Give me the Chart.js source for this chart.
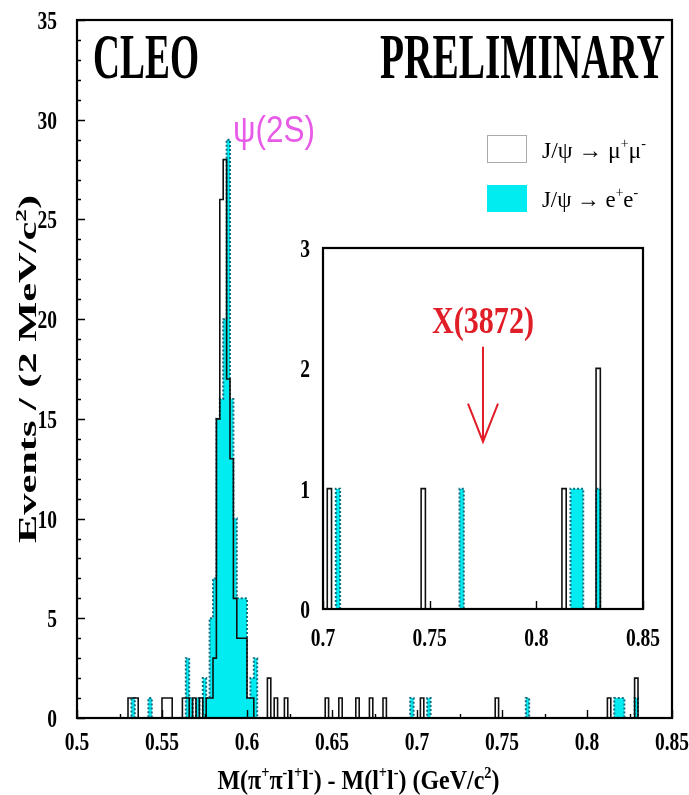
<!DOCTYPE html>
<html>
<head>
<meta charset="utf-8">
<script src="https://cdn.jsdelivr.net/npm/chart.js@4.4.1/dist/chart.umd.min.js"></script>
<style>
  html, body { margin: 0; padding: 0; background: #fff; }
  #wrap { position: relative; width: 689px; height: 795px; }
  #main { position: absolute; left: 0; top: 0; }
  #inset { position: absolute; left: 282px; top: 226px; }
</style>
</head>
<body>
<div id="wrap">
  <canvas id="main" width="689" height="795"></canvas>
  <canvas id="inset" width="380" height="440"></canvas>
</div>
<script>
// histogram: 2 MeV bins, low edge of each filled bin and its count
const binWidth = 0.002;
const muEdges  = [0.530, 0.532, 0.534, 0.550, 0.552, 0.554, 0.562, 0.564, 0.568, 0.572, 0.576,
                  0.578, 0.580, 0.582, 0.584, 0.586, 0.588, 0.590, 0.592, 0.594, 0.596, 0.598,
                  0.600, 0.602, 0.612, 0.616, 0.622, 0.646, 0.654, 0.664, 0.672, 0.680,
                  0.702, 0.746, 0.812, 0.828];
const muCounts = [1, 1, 1, 1, 1, 1, 1, 1, 1, 1, 1,
                  1, 3, 15, 26, 28, 17, 13, 6, 4, 4, 4,
                  1, 1, 2, 1, 1, 1, 1, 1, 1, 1,
                  1, 1, 1, 2];
const eeEdges  = [0.532, 0.542, 0.564, 0.566, 0.570, 0.574, 0.576, 0.578, 0.580, 0.582, 0.584,
                  0.586, 0.588, 0.590, 0.592, 0.594, 0.596, 0.598, 0.600, 0.602, 0.604,
                  0.696, 0.706, 0.764, 0.816, 0.818, 0.820, 0.828];
const eeCounts = [1, 1, 3, 1, 1, 2, 1, 5, 7, 15, 16,
                  20, 29, 16, 10, 6, 6, 6, 1, 2, 3,
                  1, 1, 1, 1, 1, 1, 1];

const xMin = 0.5, xMax = 0.85;
const yTicksMain = [0, 5, 10, 15, 20, 25, 30, 35];
const xTicksMain = [0.5, 0.55, 0.6, 0.65, 0.7, 0.75, 0.8, 0.85];
const insetXMin = 0.7, insetYMax = 3;
const yTicksInset = [0, 1, 2, 3];
const xTicksInset = [0.7, 0.75, 0.8, 0.85];
const x3872 = 0.775;

const serif = "'Liberation Serif', 'Times New Roman', serif";
const cyan = 'rgb(0,236,240)';
const teal = 'rgb(20,110,130)';
const red = 'rgb(225,30,40)';

function hist(edges, counts) {
  const n = Math.round((xMax - xMin) / binWidth);
  const bins = new Array(n).fill(0);
  edges.forEach((e, i) => { bins[Math.round((e - xMin) / binWidth)] = counts[i]; });
  const pts = bins.map((c, i) => ({ x: xMin + i * binWidth, y: c }));
  pts.push({ x: xMax, y: 0 });
  return pts;
}
const muData = hist(muEdges, muCounts);
const eeData = hist(eeEdges, eeCounts);

function datasets() {
  return [
    { label: 'mumu', data: muData, stepped: 'before', borderColor: '#111', borderWidth: 1.6,
      pointRadius: 0, fill: false, order: 1 },
    { label: 'ee', data: eeData, stepped: 'before', borderColor: teal, borderWidth: 2,
      borderDash: [2, 2], backgroundColor: cyan, pointRadius: 0, fill: 'origin', order: 2 }
  ];
}

// text helper: segments (arrays = superscript), fitted to a width, optional rotation
function drawRich(ctx, parts, x, y, o) {
  const size = o.size, font = s => (o.weight || '') + ' ' + s + 'px ' + (o.family || serif);
  ctx.save();
  let total = 0;
  const segs = parts.map(p => {
    const sup = Array.isArray(p);
    const t = sup ? p[0] : p;
    const s = sup ? size * 0.6 : size;
    ctx.font = font(s);
    const w = ctx.measureText(t).width;
    total += w;
    return { t, s, sup, w };
  });
  const sx = o.width ? o.width / total : (o.sx || 1);
  ctx.translate(x, y);
  if (o.rot) ctx.rotate(o.rot);
  ctx.scale(sx, 1);
  let cx = o.align === 'center' ? -total / 2 : o.align === 'right' ? -total : 0;
  ctx.fillStyle = o.color || '#000';
  ctx.textBaseline = 'alphabetic';
  segs.forEach(g => {
    ctx.font = font(g.s);
    ctx.fillText(g.t, cx, g.sup ? -size * 0.42 : 0);
    cx += g.w;
  });
  ctx.restore();
}

function frameAndTicks(chart, opts) {
  const { ctx, chartArea: a, scales } = chart;
  ctx.save();
  ctx.strokeStyle = '#000';
  ctx.lineWidth = 1.4;
  ctx.beginPath();
  if (opts.yMinor) {
    for (let v = scales.y.min; v <= scales.y.max + 1e-9; v += opts.yMinor) {
      const py = Math.round(scales.y.getPixelForValue(v)) + 0.5;
      const major = Math.abs(v / opts.yMajor - Math.round(v / opts.yMajor)) < 1e-6;
      ctx.moveTo(a.left, py); ctx.lineTo(a.left + (major ? opts.majorLen : opts.minorLen), py);
    }
  }
  for (let v = scales.x.min; v <= scales.x.max + 1e-9; v += opts.xMinor) {
    const px = Math.round(scales.x.getPixelForValue(v)) + 0.5;
    const major = Math.abs(v / opts.xMajor - Math.round(v / opts.xMajor)) < 1e-6;
    ctx.moveTo(px, a.bottom); ctx.lineTo(px, a.bottom - (major ? opts.majorLen : opts.minorLen));
  }
  ctx.stroke();
  ctx.lineWidth = 2.2;
  ctx.strokeRect(a.left, a.top, a.right - a.left, a.bottom - a.top);
  ctx.restore();
  // tick labels from the scales' own ticks
  const lab = { size: 26, weight: 'bold', sx: 0.75 };
  scales.x.ticks.forEach(t => {
    drawRich(ctx, [String(Number(t.value.toFixed(3)))], scales.x.getPixelForValue(t.value),
             a.bottom + opts.xLabelDy, Object.assign({ align: 'center' }, lab));
  });
  scales.y.ticks.forEach(t => {
    drawRich(ctx, [String(t.value)], a.left - opts.yLabelDx, scales.y.getPixelForValue(t.value) + 9,
             Object.assign({ align: 'right' }, lab));
  });
}

const mainDecor = {
  id: 'mainDecor',
  afterDatasetsDraw(chart) {
    const { ctx, chartArea: a, scales } = chart;
    frameAndTicks(chart, { yMinor: 1, yMajor: 5, xMinor: 0.025, xMajor: 0.05, majorLen: 8, minorLen: 4,
                           xLabelDy: 32, yLabelDx: 20 });
    drawRich(ctx, ['CLEO'], a.left + 16, a.top + 58, { size: 64, weight: 'bold', width: 106 });
    drawRich(ctx, ['PRELIMINARY'], a.right - 7, a.top + 58, { size: 64, weight: 'bold', width: 285, align: 'right' });
    // psi(2S) label next to its peak
    drawRich(ctx, ['\u03c8(2S)'], scales.x.getPixelForValue(0.5918), scales.y.getPixelForValue(28.9),
             { size: 36, family: "'Liberation Sans', sans-serif", width: 82, color: 'rgb(232,90,232)' });
    // legend
    ctx.save();
    ctx.fillStyle = '#fff';
    ctx.strokeStyle = '#aaa';
    ctx.lineWidth = 1;
    ctx.fillRect(487, 135, 40, 28);
    ctx.strokeRect(487.5, 135.5, 39, 27);
    ctx.fillStyle = cyan;
    ctx.fillRect(487, 185, 40, 27);
    ctx.restore();
    drawRich(ctx, ['J/\u03c8 \u2192 \u03bc', ['+'], '\u03bc', ['-']], 542, 158, { size: 24, width: 104 });
    drawRich(ctx, ['J/\u03c8 \u2192 e', ['+'], 'e', ['-']], 542, 207, { size: 24, width: 96 });
    // axis titles
    drawRich(ctx, ['M(\u03c0', ['+'], '\u03c0', ['-'], 'l', ['+'], 'l', ['-'], ') - M(l', ['+'], 'l', ['-'],
                   ') (GeV/c', ['2'], ')'], (a.left + a.right) / 2 - 16, 789,
             { size: 27, weight: 'bold', width: 282, align: 'center' });
    drawRich(ctx, ['Events / (2 MeV/c', ['2'], ')'], 36, (a.top + a.bottom) / 2,
             { size: 25, weight: 'bold', width: 348, align: 'center', rot: -Math.PI / 2 });
  }
};

const insetDecor = {
  id: 'insetDecor',
  beforeDatasetsDraw(chart) {
    const { ctx, chartArea: a } = chart;
    ctx.save();
    ctx.fillStyle = '#fff';
    ctx.fillRect(a.left, a.top, a.right - a.left, a.bottom - a.top);
    ctx.restore();
  },
  afterDatasetsDraw(chart) {
    const { ctx, scales } = chart;
    frameAndTicks(chart, { yMinor: 0, xMinor: 0.05, xMajor: 0.05, majorLen: 8, minorLen: 8,
                           xLabelDy: 37, yLabelDx: 13 });
    const ax = scales.x.getPixelForValue(x3872);
    const yTop = scales.y.getPixelForValue(2.18);
    const yTip = scales.y.getPixelForValue(1.39);
    ctx.save();
    ctx.strokeStyle = red;
    ctx.lineWidth = 2;
    ctx.beginPath();
    ctx.moveTo(ax, yTop); ctx.lineTo(ax, yTip);
    ctx.moveTo(ax - 15, yTip - 38); ctx.lineTo(ax, yTip); ctx.lineTo(ax + 15, yTip - 38);
    ctx.stroke();
    ctx.restore();
    drawRich(ctx, ['X(3872)'], ax, scales.y.getPixelForValue(2.29),
             { size: 38, weight: 'bold', width: 102, align: 'center', color: red });
  }
};

function fixX(h) { return s => { s.height = h; s.paddingLeft = 0; s.paddingRight = 0; }; }
function fixY(w) { return s => { s.width = w; s.paddingTop = 0; s.paddingBottom = 0; }; }

function makeChart(id, xmin, ymax, xt, yt, pad, xh, yw, decor) {
  return new Chart(document.getElementById(id), {
    type: 'line',
    data: { datasets: datasets() },
    options: {
      responsive: false,
      animation: false,
      layout: { padding: pad },
      plugins: { legend: { display: false }, tooltip: { enabled: false } },
      scales: {
        x: {
          type: 'linear', min: xmin, max: xMax,
          grid: { display: false, drawTicks: false },
          border: { display: false },
          afterBuildTicks: s => { s.ticks = xt.map(v => ({ value: v })); },
          afterFit: fixX(xh),
          ticks: { display: false }
        },
        y: {
          min: 0, max: ymax,
          grid: { display: false, drawTicks: false },
          border: { display: false },
          afterBuildTicks: s => { s.ticks = yt.map(v => ({ value: v })); },
          afterFit: fixY(yw),
          ticks: { display: false }
        }
      }
    },
    plugins: [decor]
  });
}

makeChart('main', xMin, 35, xTicksMain, yTicksMain,
          { left: 0, right: 17, top: 20, bottom: 0 }, 77, 77, mainDecor);
makeChart('inset', insetXMin, insetYMax, xTicksInset, yTicksInset,
          { left: 0, right: 19, top: 22, bottom: 0 }, 57, 41, insetDecor);
</script>
</body>
</html>
